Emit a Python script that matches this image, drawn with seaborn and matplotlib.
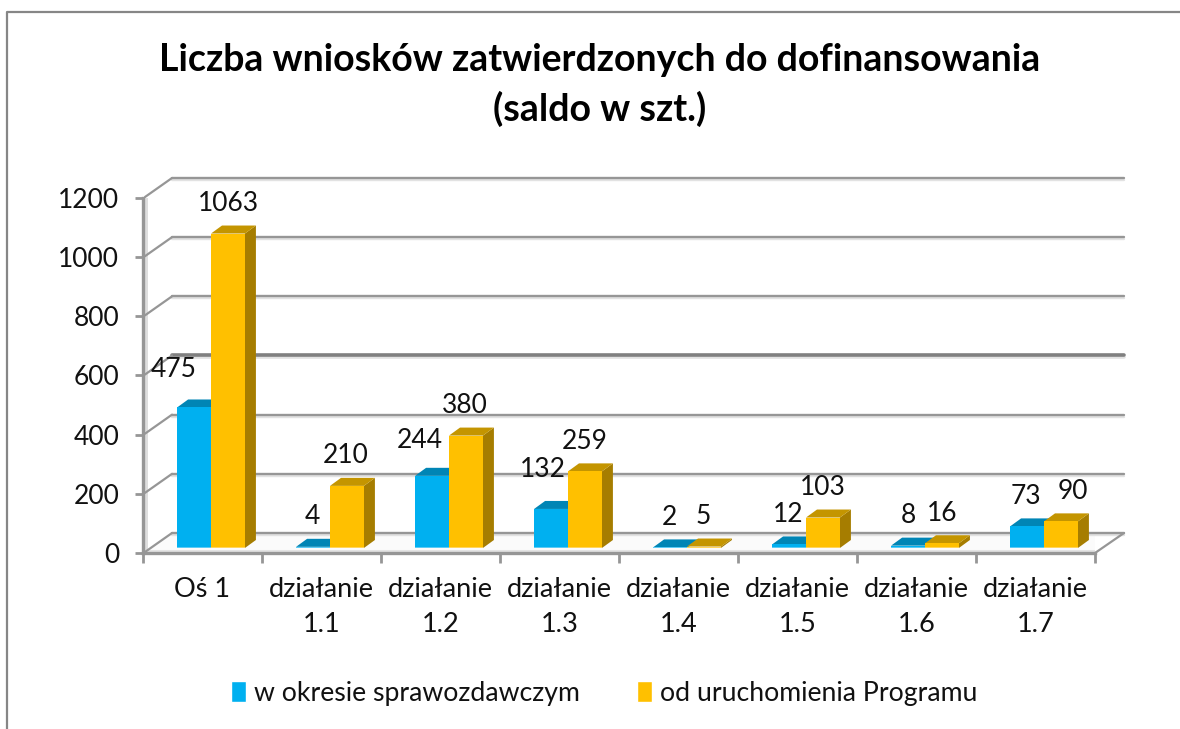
import matplotlib
matplotlib.use("Agg")
import matplotlib.pyplot as plt
import seaborn as sns
import pandas as pd
from matplotlib.lines import Line2D
from matplotlib.patches import Polygon, Patch
from matplotlib.transforms import Affine2D, IdentityTransform

categories = ['Oś 1', 'działanie\n1.1', 'działanie\n1.2', 'działanie\n1.3',
              'działanie\n1.4', 'działanie\n1.5', 'działanie\n1.6', 'działanie\n1.7']
series_names = ['w okresie sprawozdawczym', 'od uruchomienia Programu']
period_values = [475, 4, 244, 132, 2, 12, 8, 73]
total_values = [1063, 210, 380, 259, 5, 103, 16, 90]
y_ticks = [0, 200, 400, 600, 800, 1000, 1200]

# label nudges in pixels, relative to the default spot above each bar
period_nudge = [(-20, 8), (-1, 0), (-12, 5), (-8, 9), (-1, 0), (-1, 0), (0, 0), (-1, 0)]
total_nudge = [(0, 0), (-1, 0), (-1, 0), (0, 0), (-1, 0), (0, 0), (0, 0), (12, 0)]

W, H = 1180, 729
GREY = '#969696'
BAR_SHIFT = (8.5, 5)   # bars stand a bit behind the front edge of the floor
BAR_DEPTH = (11, 8)
WALL_DEPTH = (29, 20)

# front, top, side and bottom strip colours
SHADES = [('#00B0F0', '#0085B5', '#0085B5', '#5CCBF5'),
          ('#FFC000', '#C49500', '#A67D00', '#FFD45C')]

df = pd.DataFrame({
    'kategoria': categories * 2,
    'seria': [series_names[0]] * 8 + [series_names[1]] * 8,
    'liczba': period_values + total_values,
})

sns.set_theme(style="white")
plt.rcParams['font.family'] = ['Lato', 'DejaVu Sans']

fig = plt.figure(figsize=(W / 100, H / 100), dpi=100)
ax = fig.add_axes([143 / W, 1 - 553 / H, 952 / W, 355 / H])

sns.barplot(data=df, x='kategoria', y='liczba', hue='seria', ax=ax, width=0.57, gap=0,
            palette=[SHADES[0][0], SHADES[1][0]], saturation=1, errorbar=None, legend=False)
ax.set_xlim(-0.5, 7.5)
ax.set_ylim(0, 1200)
ax.set_xlabel('')
ax.set_ylabel('')
ax.patch.set_alpha(0)

# left wall strip and floor
to_back = ax.transData + Affine2D().translate(*WALL_DEPTH)
x0, y0 = ax.transData.transform((-0.5, 0))
x1, y1 = ax.transData.transform((7.5, 0))
_, y_top = ax.transData.transform((-0.5, 1200))
ax.add_artist(Polygon([(x0, y0), (x1, y0), (x1 + WALL_DEPTH[0], y0 + WALL_DEPTH[1]),
                       (x0 + WALL_DEPTH[0], y0 + WALL_DEPTH[1])],
                      closed=True, fc='#fbfbfb', ec='none', transform=IdentityTransform(), zorder=0.5))
ax.add_artist(Polygon([(x0, y0), (x0 + 5, y0), (x0 + 5, y_top), (x0, y_top)],
                      closed=True, fc='#dedede', ec='none', transform=IdentityTransform(), zorder=0.6))
ax.add_artist(Line2D([x0 + 4, x1], [y0 + 2, y0 + 2], color='#e4e4e4', lw=1.5,
                     transform=IdentityTransform(), zorder=0.7))

# grid on the back wall with the diagonals running to the front
for v in y_ticks:
    lw = 2.6 if v == 600 else 1.7
    col = '#808080' if v == 600 else GREY
    ax.plot([-0.5, 7.5], [v, v], color='#e2e2e2', lw=lw,
            transform=to_back + Affine2D().translate(0, -2), zorder=0.8, clip_on=False)
    ax.plot([-0.5, 7.5], [v, v], color=col, lw=lw, transform=to_back, zorder=1, clip_on=False)
    px, py = ax.transData.transform((-0.5, v))
    ax.add_artist(Line2D([px + 2, px + WALL_DEPTH[0]], [py + 1, py + WALL_DEPTH[1]], color=GREY, lw=1.6,
                         transform=IdentityTransform(), zorder=1, clip_on=False))
ax.add_artist(Line2D([x1, x1 + WALL_DEPTH[0]], [y0, y0 + WALL_DEPTH[1]], color=GREY, lw=1.6,
                     transform=IdentityTransform(), zorder=1, clip_on=False))
ax.set_xlim(-0.5, 7.5)
ax.set_ylim(0, 1200)

# turn the flat seaborn bars into boxes
shift = Affine2D().translate(*BAR_SHIFT)
dx, dy = BAR_DEPTH
for s, container in enumerate(ax.containers):
    front, top, side, strip = SHADES[s]
    nudges = period_nudge if s == 0 else total_nudge
    for i, bar in enumerate(container):
        z = 3 + i + s * 0.5
        bar.set_transform(ax.transData + shift)
        bar.set_zorder(z + 0.3)
        bar.set_clip_on(False)
        bar.set_edgecolor('none')
        xa, ya = ax.transData.transform((bar.get_x(), bar.get_y())) + BAR_SHIFT
        xb, yb = ax.transData.transform((bar.get_x() + bar.get_width(), bar.get_height())) + BAR_SHIFT
        for pts, col, zz in [
            ([(xa, yb), (xb, yb), (xb + dx, yb + dy), (xa + dx, yb + dy)], top, z + 0.2),
            ([(xb, ya), (xb + dx, ya + dy), (xb + dx, yb + dy), (xb, yb)], side, z + 0.1),
            ([(xa, ya), (xb, ya), (xb, ya + 1.5), (xa, ya + 1.5)], strip, z + 0.4),
        ]:
            ax.add_artist(Polygon(pts, closed=True, fc=col, ec='none',
                                  transform=IdentityTransform(), zorder=zz, clip_on=False))
        nx, ny = nudges[i]
        ax.annotate(f'{bar.get_height():.0f}', (bar.get_x() + bar.get_width() / 2, bar.get_height()),
                    xytext=(BAR_SHIFT[0] + nx, BAR_SHIFT[1] + 30 + ny), textcoords='offset pixels',
                    ha='center', va='center', fontsize=19, color='#111111',
                    annotation_clip=False, zorder=20)

# axes lines and ticks
sns.despine(ax=ax, top=True, right=True)
for side_name in ['left', 'bottom']:
    ax.spines[side_name].set_color(GREY)
    ax.spines[side_name].set_linewidth(2.4)
    ax.spines[side_name].set_zorder(2)
ax.set_yticks(y_ticks)
ax.tick_params(axis='y', which='major', left=True, length=6, width=2, color=GREY,
               labelsize=19, labelcolor='#111111', pad=11)
ax.set_xticks([i + 0.5 for i in range(-1, 8)], minor=True)
ax.tick_params(axis='x', which='minor', bottom=True, length=7, width=2, color=GREY)
ax.tick_params(axis='x', which='major', bottom=False, labelsize=19.5, labelcolor='#111111', pad=11)
for lab in ax.get_xticklabels():
    lab.set_linespacing(1.5)

handles = [Patch(fc=SHADES[0][0], label=series_names[0]), Patch(fc=SHADES[1][0], label=series_names[1])]
fig.legend(handles=handles, loc='center', bbox_to_anchor=(604 / W, 1 - 693 / H), ncol=2,
           frameon=False, fontsize=19.2, handlelength=0.56, handleheight=0.85,
           handletextpad=0.3, columnspacing=2.15, labelcolor='#111111')

fig.text(600 / W, 1 - 85 / H, 'Liczba wniosków zatwierdzonych do dofinansowania\n(saldo w szt.)',
         ha='center', va='center', fontsize=27, fontweight='bold', color='black', linespacing=1.45)

# outer frame, only top and left edges show in the crop
fig.add_artist(Line2D([7 / W, 7 / W, 1], [0, 1 - 12 / H, 1 - 12 / H], color='#868686', lw=1.6))

fig.savefig('out.png', dpi=100)
